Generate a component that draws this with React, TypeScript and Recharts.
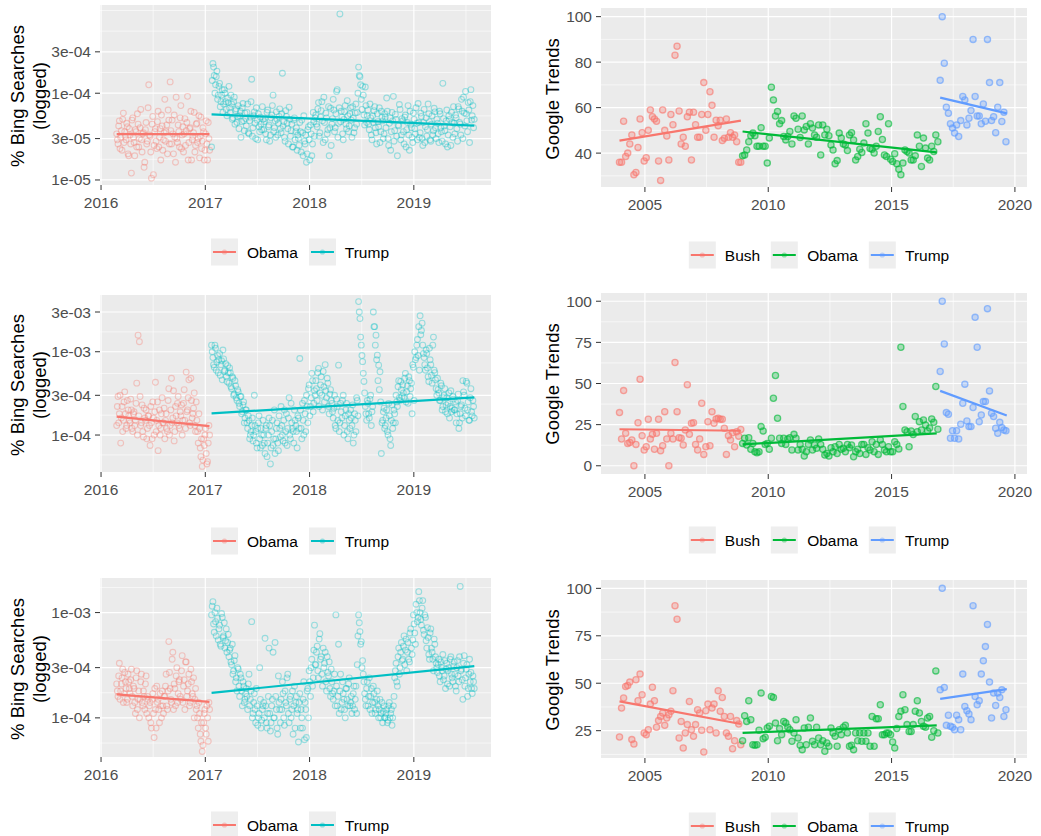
import React from 'react';
import { ScatterChart, Scatter, XAxis, YAxis, CartesianGrid } from 'recharts';

const FONT = '"Liberation Sans", Arial, Helvetica, sans-serif';
const RED = '#F8766D';
const TEAL = '#00BFC4';
const GREEN = '#00BA38';
const BLUE = '#619CFF';

// ---------- Bing (daily, sampled twice per step) ----------
const BING_STEP = 1 / 78;
const bingObamaStart = 2016.15;
const bingTrumpStart = 2017.06;
const bingXTicks = [2016, 2017, 2018, 2019];
const bingXMinor = [2016.5, 2017.5, 2018.5, 2019.5];
const bingLegend = ['Obama', 'Trump'];

// panel 1 (values in 1e-5)
const bing1Unit = 1e-5;
const bing1YTicks = [1e-5, 3e-5, 1e-4, 3e-4];
const bing1YLabels = ['1e-05', '3e-05', '1e-04', '3e-04'];
const bing1YMinor = [1.732e-5, 5.477e-5, 1.732e-4, 5.196e-4, 9e-4];
const bing1Obama = [
  3.4, 2.6, 4.8, 3.1, 2.2, 5.9, 3.6, 2.9, 4.1, 1.9,
  3.3, 1.2, 5.2, 2.7, 3.8, 2.4, 4.4, 3.0, 6.5, 2.1,
  3.5, 1.6, 4.6, 2.8, 12.5, 3.2, 1.05, 5.4, 2.5, 3.9,
  2.3, 6.2, 3.1, 1.7, 4.2, 2.9, 8.5, 3.6, 2.0, 4.9,
  13.5, 2.6, 3.4, 5.6, 1.6, 3.0, 4.3, 2.4, 7.2, 3.3,
  2.1, 5.1, 3.7, 9.2, 2.7, 4.0, 1.7, 3.2, 6.0, 2.5,
  4.5, 3.0, 1.8, 5.3, 2.8, 3.6, 2.2, 4.8, 1.7, 3.0,
];
const bing1ObamaB = [
  2.9, 4.2, 2.3, 3.7, 5.0, 2.7, 3.2, 4.5, 2.0, 3.9,
  2.6, 4.9, 3.1, 1.9, 3.6, 5.8, 2.4, 4.0, 2.9, 3.4,
  1.4, 3.8, 2.6, 6.8, 3.3, 2.1, 4.4, 1.15, 3.6, 2.8,
  4.7, 2.4, 3.9, 5.6, 2.2, 3.5, 2.8, 4.3, 6.4, 2.6,
  3.7, 4.9, 2.0, 3.1, 9.0, 2.7, 3.6, 5.2, 2.3, 4.1,
  3.4, 2.5, 4.6, 1.7, 3.9, 6.2, 2.9, 3.5, 2.1, 4.4,
  2.7, 5.5, 3.2, 2.3, 4.0, 1.7, 3.4, 2.6, 4.6, 2.2,
];
const bing1Trump = [
  2.4, 22, 16, 12.5, 18, 9.5, 13, 8, 11, 7.5, 10, 6.5, 8.8,
  12, 6, 7.5, 5.2, 9, 6.3, 4.6, 7.2, 5.5, 3.1, 6.8, 4.8, 5.9,
  4.2, 7.5, 3.4, 5.3, 14.5, 4.0, 6.1, 3.0, 4.9, 5.8, 3.6, 4.4, 7.0,
  3.8, 5.1, 2.9, 6.4, 4.3, 3.3, 5.6, 9.5, 4.0, 3.1, 5.0, 4.5, 6.6,
  3.5, 17, 4.7, 2.8, 5.4, 3.9, 6.9, 3.2, 4.4, 2.4, 5.2, 3.6, 2.2,
  3.0, 4.6, 2.1, 3.5, 5.5, 2.6, 1.6, 3.8, 2.9, 4.3, 1.9, 6.0, 3.2,
  5.6, 4.1, 7.8, 3.5, 6.3, 4.8, 9.0, 2.9, 5.2, 3.8, 1.9, 6.7, 4.4,
  8.5, 3.6, 5.8, 11, 4.5, 82, 6.2, 3.4, 5.0, 7.2, 3.9, 5.5, 4.2,
  6.8, 3.1, 5.2, 4.0, 7.5, 6.0, 20, 15.5, 8.5, 12, 5.6, 11.8, 4.6,
  6.4, 3.8, 5.2, 2.9, 4.6, 7.0, 3.5, 5.8, 4.1, 2.7, 6.2, 4.8, 3.4,
  5.3, 8.8, 3.0, 4.5, 2.2, 6.0, 9.2, 3.7, 5.0, 1.9, 4.2, 6.5, 3.3,
  4.8, 2.6, 5.6, 3.8, 7.2, 2.2, 4.4, 3.1, 5.9, 3.9, 6.8, 2.9, 4.6,
  3.5, 5.4, 2.5, 6.5, 4.1, 3.2, 7.5, 4.7, 2.8, 5.5, 3.7, 6.1, 3.0,
  4.5, 2.7, 5.8, 3.6, 13, 4.2, 2.6, 6.4, 3.3, 5.0, 2.5, 4.6, 7.0,
  3.4, 5.2, 2.8, 6.6, 4.4, 8.5, 3.0, 5.9, 10.5, 4.8, 7.8, 2.7, 11,
  5.5, 4.0,
];
const bing1TrumpB = [
  14, 20, 10, 15.5, 8.5, 12, 7, 9.5, 6.0, 11, 8, 5.5, 7.8,
  6.8, 9.5, 5.0, 8.0, 4.4, 6.6, 5.4, 3.9, 6.2, 4.7, 7.6, 3.7, 5.1,
  6.0, 3.5, 4.8, 8.0, 3.2, 5.5, 4.5, 6.8, 2.9, 4.1, 5.3, 3.8, 5.0,
  4.7, 3.4, 6.0, 4.1, 2.8, 5.2, 7.2, 3.6, 4.8, 6.1, 3.3, 5.4, 3.9,
  5.8, 4.2, 3.1, 6.3, 4.5, 2.6, 5.0, 3.7, 2.4, 4.9, 2.9, 4.0, 3.3,
  2.5, 3.6, 4.9, 1.9, 2.8, 3.3, 2.0, 4.1, 1.7, 3.4, 2.6, 4.7, 5.2,
  4.4, 6.6, 3.2, 5.3, 8.0, 2.7, 4.6, 5.9, 3.4, 7.0, 4.0, 2.5, 5.1,
  6.4, 4.0, 10.5, 3.1, 6.8, 4.7, 5.3, 2.9, 6.1, 4.4, 8.2, 3.6, 5.8,
  4.9, 7.0, 3.5, 5.9, 4.4, 10, 16, 12.5, 6.5, 9.5, 4.3, 7.2, 5.5,
  4.4, 7.5, 3.3, 5.5, 6.3, 4.0, 2.6, 4.7, 6.8, 3.6, 5.3, 3.0, 5.8,
  4.0, 6.2, 2.5, 5.2, 3.6, 4.8, 2.8, 5.7, 3.2, 4.3, 7.4, 2.9, 5.1,
  3.6, 5.3, 2.4, 4.6, 3.3, 6.2, 4.0, 2.7, 5.0, 3.4, 4.5, 7.6, 3.1,
  5.9, 3.0, 4.6, 2.7, 5.2, 3.8, 5.8, 2.9, 4.4, 3.3, 6.7, 4.0, 5.0,
  3.4, 6.2, 4.0, 2.8, 5.1, 3.7, 4.8, 2.4, 5.5, 4.1, 6.0, 3.1, 4.5,
  5.6, 3.9, 7.0, 4.6, 3.3, 6.2, 9.0, 4.2, 5.8, 3.6, 6.4, 8.0, 4.9,
  7.2, 5.0,
];
const bing1ObamaTrend = [[2016.15, 3.37], [2017.04, 3.37]];
const bing1TrumpTrend = [[2017.06, 5.7], [2019.58, 4.24]];

// panel 3 (values in 1e-4)
const bing2Unit = 1e-4;
const bing2YTicks = [1e-4, 3e-4, 1e-3, 3e-3];
const bing2YLabels = ['1e-04', '3e-04', '1e-03', '3e-03'];
const bing2YMinor = [5.77e-5, 1.732e-4, 5.477e-4, 1.732e-3];
const bing2Obama = [
  1.3, 2.9, 1.8, 0.8, 2.2, 1.5, 3.3, 1.2, 2.6, 1.7, 1.4, 2.0,
  1.1, 1.9, 1.5, 4.2, 15.8, 13.2, 1.3, 2.3, 0.95, 1.6, 2.0, 1.2,
  1.7, 0.75, 1.4, 2.5, 1.0, 4.3, 1.5, 0.65, 2.0, 1.2, 2.8, 1.4,
  0.9, 1.8, 1.1, 3.6, 1.3, 4.8, 1.6, 0.85, 2.2, 1.4, 2.9, 1.2,
  1.7, 1.0, 2.4, 1.5, 5.7, 2.0, 4.6, 1.3, 2.6, 1.8, 3.2, 1.1,
  1.5, 0.8, 1.2, 0.55, 0.42, 0.9, 1.0, 0.6, 0.48, 1.3,
];
const bing2ObamaB = [
  2.2, 1.4, 3.0, 1.6, 1.1, 2.5, 1.8, 1.3, 2.0, 1.5, 2.7, 1.2,
  1.8, 1.3, 2.4, 1.0, 1.7, 2.9, 1.4, 1.1, 2.1, 1.5, 0.9, 1.7,
  1.3, 2.2, 0.9, 1.6, 1.9, 1.1, 2.5, 1.3, 1.0, 1.8, 1.4, 2.1,
  1.5, 1.2, 2.6, 1.0, 2.0, 1.4, 3.4, 1.1, 1.7, 2.4, 1.3, 1.9,
  2.3, 1.5, 3.5, 1.2, 1.9, 2.8, 1.4, 4.8, 1.6, 2.1, 1.3, 2.5,
  1.1, 1.8, 0.7, 0.9, 0.5, 0.75, 1.2, 0.45, 0.8, 1.0,
];
const bing2Trump = [
  12, 8.5, 6.5, 11, 7.5, 5.6, 9.5, 7.0, 4.6, 8.2, 6.0, 5.0, 6.8,
  4.2, 5.6, 3.6, 4.8, 3.1, 3.9, 2.6, 3.3, 2.2, 2.9, 1.9, 2.5, 1.6,
  2.0, 1.2, 1.5, 1.0, 1.3, 0.85, 3.0, 1.1, 0.7, 1.4, 0.9, 1.2, 0.75,
  1.0, 0.6, 1.3, 0.8, 1.6, 0.45, 1.1, 0.75, 2.0, 0.9, 1.4, 0.65, 1.2,
  2.2, 1.0, 1.5, 0.8, 1.8, 1.2, 2.8, 0.9, 1.4, 1.1, 2.0, 1.3, 0.7,
  1.6, 8.3, 1.2, 2.4, 1.0, 1.8, 3.0, 1.4, 4.0, 2.2, 5.5, 1.9, 3.4,
  4.5, 2.6, 6.3, 3.2, 5.0, 2.0, 3.8, 7.0, 2.8, 4.2, 1.8, 3.5, 2.4,
  1.6, 3.0, 1.2, 2.2, 6.9, 1.4, 1.9, 2.6, 1.0, 1.7, 2.4, 0.9, 1.5,
  2.0, 1.3, 0.8, 1.8, 1.1, 2.6, 40, 25, 12, 7.6, 4.4, 2.2, 1.5,
  2.4, 1.6, 3.0, 1.9, 30, 20, 15.8, 9.1, 6.9, 5.75, 0.6, 1.5, 2.1,
  1.3, 2.0, 1.0, 1.7, 0.75, 2.3, 1.4, 1.8, 3.0, 2.2, 4.5, 2.6, 3.5,
  4.0, 2.8, 5.5, 3.3, 2.4, 4.5, 3.6, 1.8, 6.5, 10, 8.5, 14, 20,
  27, 18, 12, 8.5, 6.0, 9.5, 5.0, 11, 7.0, 4.2, 15, 5.6, 3.6,
  4.8, 3.2, 2.6, 3.9, 2.2, 3.0, 1.9, 2.8, 2.4, 1.6, 3.4, 2.1, 2.7,
  2.0, 1.4, 2.6, 1.2, 1.8, 2.3, 4.5, 3.0, 1.7, 4.2, 2.5, 1.5, 3.6,
  1.7, 2.2,
];
const bing2TrumpB = [
  10, 7.0, 12, 6.0, 9.0, 8.0, 5.2, 7.8, 10.5, 5.8, 7.2, 4.4, 5.6,
  6.4, 3.8, 5.0, 3.0, 4.5, 2.8, 3.5, 2.4, 2.9, 1.8, 2.3, 1.4, 2.0,
  1.4, 1.7, 0.9, 1.1, 1.6, 1.0, 1.3, 0.8, 1.2, 1.7, 0.7, 1.0, 1.5,
  0.8, 1.2, 0.55, 1.0, 1.3, 0.7, 1.5, 0.9, 0.6, 1.2, 0.8, 1.7, 0.95,
  1.3, 0.85, 2.0, 1.1, 0.75, 1.6, 1.0, 2.4, 1.2, 0.8, 1.5, 1.1, 1.7,
  1.2, 2.0, 0.9, 1.5, 2.6, 1.1, 2.2, 3.6, 1.7, 2.8, 4.5, 2.4, 3.0,
  3.6, 5.6, 2.2, 4.0, 3.0, 5.8, 2.5, 3.4, 4.8, 2.2, 3.1, 2.6, 1.9,
  2.1, 1.3, 2.7, 1.5, 1.1, 2.4, 1.6, 3.0, 1.3, 2.0, 1.1, 1.8, 1.2,
  1.6, 2.3, 1.0, 1.5, 2.8, 1.7, 30, 15, 9, 5.5, 3.2, 1.8, 2.6,
  1.8, 2.7, 1.3, 2.2, 20, 12, 8, 4.5, 3.5, 2.5, 1.4, 1.9, 1.2,
  1.6, 1.1, 2.4, 0.9, 1.5, 1.2, 2.0, 1.4, 2.5, 3.8, 2.8, 4.4, 2.9,
  3.2, 4.8, 2.5, 3.9, 5.0, 2.9, 4.2, 7.0, 2.6, 8.0, 12, 9.0, 6.0,
  16, 22, 9.5, 7.0, 10.5, 6.4, 4.4, 8.0, 5.2, 12, 6.0, 4.6, 3.0,
  3.5, 2.6, 4.2, 2.0, 2.8, 3.6, 2.3, 1.8, 3.2, 2.2, 1.9, 2.9, 2.0,
  2.5, 1.8, 3.1, 1.4, 2.2, 1.6, 3.3, 2.1, 4.4, 2.0, 1.5, 2.8, 1.9,
  2.6, 1.6,
];
const bing2ObamaTrend = [[2016.15, 1.66], [2017.04, 1.28]];
const bing2TrumpTrend = [[2017.06, 1.82], [2019.58, 2.83]];

// panel 5 (values in 1e-4)
const bing3Unit = 1e-4;
const bing3YTicks = [1e-4, 3e-4, 1e-3];
const bing3YLabels = ['1e-04', '3e-04', '1e-03'];
const bing3YMinor = [5.77e-5, 1.732e-4, 5.477e-4, 1.732e-3];
const bing3Obama = [
  2.1, 1.6, 3.3, 1.8, 2.4, 1.4, 2.7, 1.9, 1.5, 2.2, 1.7, 2.9,
  1.3, 1.9, 1.1, 2.8, 1.5, 1.0, 2.2, 1.4, 1.8, 1.2, 2.5, 1.6,
  1.0, 1.4, 0.8, 1.7, 0.65, 1.2, 2.0, 1.5, 0.9, 1.3, 1.8, 1.1,
  1.6, 2.6, 1.2, 5.3, 1.9, 1.4, 4.2, 2.1, 1.3, 3.0, 1.7, 2.3,
  1.5, 3.9, 2.0, 1.2, 3.4, 1.8, 2.6, 1.4, 2.2, 1.6, 1.0, 1.9,
  1.3, 0.8, 1.1, 0.6, 0.48, 0.9, 1.2, 0.7, 1.0, 1.4,
];
const bing3ObamaB = [
  1.8, 2.5, 1.5, 2.1, 2.9, 1.7, 2.2, 1.4, 2.6, 1.9, 2.3, 1.6,
  2.0, 1.4, 2.4, 1.2, 1.8, 1.5, 2.6, 1.3, 1.6, 2.1, 1.1, 1.5,
  1.3, 0.9, 1.5, 1.1, 1.9, 0.8, 1.4, 1.2, 1.7, 1.0, 1.3, 1.6,
  2.0, 1.3, 1.8, 2.7, 1.5, 3.6, 1.2, 1.9, 2.5, 1.4, 2.2, 1.6,
  2.8, 1.4, 2.3, 3.4, 1.6, 2.1, 1.3, 2.9, 1.7, 2.4, 1.5, 1.2,
  1.0, 1.4, 0.7, 0.9, 0.55, 1.1, 0.8, 1.3, 0.6, 1.2,
];
const bing3Trump = [
  9.5, 12.7, 6.5, 8.2, 11, 5.5, 7.6, 4.8, 9.0, 6.0, 4.6, 7.0, 5.2,
  3.8, 4.6, 3.2, 2.6, 3.5, 2.2, 1.8, 2.9, 1.6, 2.4, 1.3, 2.0, 1.5,
  1.9, 1.2, 2.6, 1.5, 8.2, 1.1, 1.7, 0.9, 1.3, 1.0, 3.0, 0.8, 1.2,
  1.4, 5.7, 0.9, 1.1, 4.6, 0.75, 1.3, 4.2, 1.0, 1.6, 0.8, 2.5, 1.2,
  1.5, 2.2, 1.0, 1.8, 1.3, 2.6, 0.9, 1.6, 1.2, 0.7, 2.0, 1.4, 1.1,
  0.59, 1.7, 1.2, 0.8, 2.2, 1.4, 0.65, 1.9, 2.8, 1.6, 3.6, 2.4, 7.6,
  3.2, 4.8, 2.4, 6.3, 3.8, 2.0, 3.0, 4.2, 1.8, 2.7, 3.4, 1.6, 2.2,
  1.5, 2.6, 9.5, 1.3, 5.0, 1.8, 1.2, 2.2, 1.5, 1.0, 1.9, 1.3, 2.4,
  1.4, 1.1, 1.7, 1.2, 2.0, 3.2, 9.5, 6.6, 5.3, 3.5, 2.2, 1.5, 1.9,
  1.3, 2.4, 1.6, 1.1, 2.0, 1.4, 1.2, 1.8, 1.0, 1.5, 1.1, 0.9, 1.3,
  1.0, 1.2, 0.95, 1.4, 1.1, 0.85, 1.3, 2.4, 3.3, 2.0, 4.6, 3.0, 5.2,
  3.6, 6.0, 4.4, 2.8, 5.2, 3.4, 7.0, 4.0, 9.5, 6.4, 12, 8.2, 15.8,
  10, 7.6, 13, 6.2, 9.0, 4.6, 5.8, 3.6, 7.0, 4.2, 2.8, 5.0, 3.3,
  2.7, 3.6, 2.2, 3.0, 4.0, 2.5, 1.9, 3.3, 2.8, 2.0, 3.8, 2.4, 3.1,
  2.6, 1.8, 3.5, 2.2, 17.7, 2.9, 1.5, 3.9, 2.4, 3.2, 1.9, 3.6, 2.7,
  1.7, 2.2,
];
const bing3TrumpB = [
  11.5, 7.8, 10, 6.0, 8.8, 7.0, 5.0, 9.8, 5.8, 8.0, 5.4, 4.2, 6.2,
  4.4, 3.4, 5.0, 2.8, 3.9, 2.4, 3.0, 2.0, 2.6, 1.8, 2.2, 1.4, 1.7,
  1.6, 2.1, 1.3, 1.8, 1.0, 1.4, 1.2, 1.9, 0.85, 1.1, 1.5, 0.95, 1.3,
  1.0, 1.3, 0.8, 1.6, 1.1, 0.9, 1.5, 1.0, 5.2, 1.2, 0.7, 1.4, 0.9,
  1.2, 1.7, 0.85, 1.4, 2.4, 1.1, 1.5, 1.0, 1.8, 1.3, 0.8, 1.6, 1.2,
  1.4, 0.8, 1.0, 1.5, 0.62, 1.2, 1.8, 1.0, 2.2, 3.0, 2.0, 4.4, 3.2,
  4.2, 2.8, 5.6, 3.6, 2.6, 4.6, 3.3, 2.2, 3.8, 2.5, 1.9, 2.9, 1.7,
  1.8, 1.3, 2.0, 1.6, 1.1, 2.6, 1.4, 1.7, 1.2, 1.9, 1.5, 2.1, 1.3,
  1.6, 1.3, 2.0, 1.5, 1.1, 6.0, 8.0, 5.0, 3.0, 2.6, 1.7, 1.3, 2.2,
  1.6, 1.2, 1.9, 1.4, 1.7, 1.1, 1.5, 1.3, 1.2, 1.0, 1.4, 1.15, 1.0,
  1.1, 0.9, 1.3, 1.0, 1.2, 1.0, 1.6, 2.8, 2.2, 3.8, 2.6, 4.2, 3.5,
  4.8, 3.2, 5.6, 4.2, 3.6, 6.4, 4.6, 5.5, 7.8, 5.0, 10, 9.0, 13,
  8.6, 11, 6.8, 9.5, 5.4, 7.2, 4.0, 6.4, 4.6, 3.6, 5.6, 3.8, 3.0,
  3.2, 2.5, 3.4, 2.8, 2.3, 3.5, 2.9, 2.1, 3.0, 3.6, 2.6, 2.2, 3.4,
  2.0, 3.0, 2.5, 3.8, 2.8, 2.3, 3.3, 2.0, 2.9, 1.6, 2.6, 2.2, 1.9,
  2.5, 1.9,
];
const bing3ObamaTrend = [[2016.15, 1.67], [2017.04, 1.42]];
const bing3TrumpTrend = [[2017.06, 1.73], [2019.58, 3.1]];

// ---------- Google Trends (monthly) ----------
const GT_STEP = 1 / 12;
const gtBushStart = 2003.97;
const gtObamaStart = 2008.96;
const gtTrumpStart = 2016.97;
const gtXTicks = [2005, 2010, 2015, 2020];
const gtXMinor = [2007.5, 2012.5, 2017.5];
const gtLegend = ['Bush', 'Obama', 'Trump'];

const gt1YTicks = [40, 60, 80, 100];
const gt1YMinor = [30, 50, 70, 90];
const gt1Bush = [
  36, 36, 54, 38.5, 40, 44, 48, 30.5, 31.5, 42.5, 55, 49,
  36.5, 38, 50, 59, 56, 55, 54, 36.5, 28, 59, 50, 47.5,
  37, 57, 52.5, 83, 87, 58.5, 44, 47, 43, 56, 58, 37,
  58, 52.5, 47, 47, 57, 71, 50, 57, 67, 61, 47, 54.5,
  52, 54.5, 45.5, 46.5, 55, 47, 49, 47, 48, 45, 36, 36,
];
const gt1Obama = [
  38.8, 39.2, 41.4, 45, 47.6, 48.8, 47.6, 43, 43, 51.2, 43, 43,
  35.6, 46.6, 69, 63.4, 56.3, 58.3, 52.9, 54.3, 47.3, 45.8, 47.3, 49.5,
  44, 56.3, 55.3, 50.5, 46.9, 56.3, 50.2, 51.7, 44, 52.9, 51, 48,
  47, 52.4, 39.2, 52.4, 48, 50.5, 47.6, 43.6, 41.4, 35.3, 36.7, 48.8,
  46.6, 44, 43.6, 41.1, 48, 49, 45.8, 37, 38.5, 41.7, 40.3, 44.4,
  52.9, 48.8, 42, 41.7, 40, 43, 49.5, 56, 46, 39.2, 38.5, 52.9,
  37.3, 36.3, 39.7, 35.3, 32.9, 30.5, 35.6, 41.4, 40.7, 40, 37, 37,
  38.8, 48, 43, 34.1, 46.6, 42.2, 37.8, 37, 43, 40.7, 48, 45,
];
const gt1Trump = [
  72, 100, 79.5, 60.2, 57.5, 52.9, 51, 48.8, 52.4, 47.3, 54.3, 64.9,
  63.4, 52.4, 55.3, 58.7, 90, 64.9, 56.3, 56.3, 52.9, 61.6, 54, 90,
  71, 54.3, 56, 49, 60.2, 71, 53.9, 58, 45,
];
const gt1BushTrend = [[2003.97, 45.5], [2008.89, 54.3]];
const gt1ObamaTrend = [[2008.96, 49.5], [2016.83, 40.3]];
const gt1TrumpTrend = [[2016.97, 64.4], [2019.67, 57.5]];

const gt2YTicks = [0, 25, 50, 75, 100];
const gt2YMinor = [12.5, 37.5, 62.5, 87.5];
const gt2Bush = [
  32.3, 16.3, 45.7, 19.7, 13.6, 14.2, 15.7, 0, 13, 26.2, 52.6, 18.3,
  9.6, 11.6, 28.3, 16.3, 19.1, 10, 19.7, 28.3, 9.1, 12.2, 32.9, 16.3,
  0, 19.7, 16.3, 62.8, 32.9, 17.1, 16.7, 12.6, 21.7, 49.2, 19.1, 25.8,
  26.2, 13, 9.6, 16.3, 38, 6.9, 11.6, 26.8, 12.2, 32.9, 25.8, 28.5,
  28.9, 28.3, 28.3, 22.8, 6.9, 18.3, 15.7, 20.1, 11.6, 20.7, 18, 22,
];
const gt2Obama = [
  13.6, 16.7, 12.6, 17.1, 10, 13.6, 8.5, 7.9, 8.5, 23.8, 21.1, 13,
  13.6, 10, 16.7, 41, 54.9, 28.9, 16.7, 13.6, 16.7, 13, 16.3, 17.1,
  9.6, 19.1, 16.7, 9.6, 13, 10, 5.9, 8.5, 13, 15.7, 9.6, 12.6,
  10.6, 16.3, 13, 10, 6.5, 7.5, 5.9, 11, 8.5, 11.6, 7.5, 13,
  10, 10.6, 8.5, 13, 11, 12.6, 5.5, 8.5, 10, 7.5, 13, 13,
  6.9, 11, 9.6, 14.6, 8.5, 13, 6.9, 15.7, 13, 9.6, 8.5, 11.6,
  8.5, 8.5, 14.6, 13, 10.2, 72, 36, 21.7, 20.7, 11.6, 21.1, 19,
  29.9, 20.7, 26.8, 21.7, 27.8, 24.8, 21.1, 23, 28.5, 26.4, 48.2, 22.2,
];
const gt2Trump = [
  57.3, 100, 74, 32.3, 31.3, 16.7, 21.3, 16.7, 21.3, 16.3, 25.2, 38,
  49.6, 27.2, 23.8, 23.8, 35.4, 90.2, 72, 26.8, 30.9, 39, 39, 95.5,
  45.5, 31.9, 29.9, 22.8, 19.7, 26.4, 23.2, 21.7, 21.3,
];
const gt2BushTrend = [[2003.97, 22.2], [2008.89, 21.3]];
const gt2ObamaTrend = [[2008.96, 13], [2016.83, 19.7]];
const gt2TrumpTrend = [[2016.97, 45.5], [2019.67, 30.5]];

const gt3YTicks = [25, 50, 75, 100];
const gt3YMinor = [12.5, 37.5, 62.5, 87.5];
const gt3Bush = [
  21.7, 36.9, 42.2, 48.3, 48.8, 50.6, 20.3, 18, 51.8, 40.8, 54.8, 43.9,
  23.8, 22.9, 25.5, 39, 47.9, 40.8, 26.8, 30.3, 32.5, 34.3, 27.8, 31.7,
  33.4, 35.2, 46, 90.8, 83.7, 21.1, 29.9, 15.9, 23.8, 28.2, 40.4, 25.5,
  22, 28.2, 36, 34.3, 25.2, 13.8, 35.5, 39, 25.5, 36.9, 39, 23.8,
  46, 35.2, 42.5, 32.5, 23.8, 22, 32.5, 15.5, 19.7, 30.3, 28.5, 17.6,
];
const gt3Obama = [
  19.7, 32.9, 29.9, 40.8, 30.8, 17.6, 17.3, 17.6, 25.2, 44.8, 20.8, 21.5,
  26.4, 27.3, 43, 42.5, 29, 19.7, 26.1, 22.9, 29.9, 29, 26.8, 25.5,
  19.4, 23.8, 30.8, 21.1, 17.3, 15, 26.4, 17.6, 26.8, 31.7, 19.4, 17.6,
  26.8, 21.1, 17.6, 19.7, 14.1, 18.5, 16.8, 26.4, 23.8, 22, 16.8, 25.5,
  22.9, 26.8, 27.8, 23.8, 16.8, 17.3, 15, 23.8, 19.7, 23.8, 19.4, 23.8,
  19.4, 23.8, 16.8, 32.5, 16.8, 31.3, 31.3, 38.7, 22.9, 22.9, 23.8, 23.8,
  22.9, 19, 15.9, 26.1, 32.5, 35.2, 43.9, 36, 28.2, 24.6, 24.6, 28.2,
  35.2, 40.8, 34.3, 29.9, 27.3, 26.8, 31.7, 32.5, 21.5, 25, 56.5, 23.8,
];
const gt3Trump = [
  46.5, 100, 47.8, 27.8, 33.1, 27.3, 26.8, 25.5, 33.1, 30.8, 25.5, 54.8,
  37.8, 35.5, 33.8, 30.8, 90.8, 43, 38.7, 40.8, 54.8, 61.8, 69.3, 81,
  50.6, 31.7, 44.8, 38.3, 44.8, 42.5, 46.5, 32.5, 36,
];
const gt3BushTrend = [[2003.97, 40.4], [2008.89, 28.5]];
const gt3ObamaTrend = [[2008.96, 23.8], [2016.83, 27.8]];
const gt3TrumpTrend = [[2016.97, 41.8], [2019.67, 46.9]];

// ---------- builders ----------
type Pt = { x: number; y: number };
const seq = (start: number, step: number, vals: number[], unit = 1): Pt[] =>
  vals.map((v, i) => ({ x: start + i * step, y: v * unit }));
const trend = (pairs: number[][], unit = 1): Pt[] => pairs.map(([x, y]) => ({ x, y: y * unit }));

type Cfg = {
  rect: { x0: number; x1: number; y0: number; y1: number };
  xDomain: [number, number];
  yDomain: [number, number];
  xTicks: number[];
  xMinor: number[];
  yTicks: number[];
  yLabels?: string[];
  yMinor: number[];
  log: boolean;
  kind: 'bing' | 'gt';
  points: { data: Pt[]; color: string }[];
  trends: { data: Pt[]; color: string }[];
};

const ringShape = (color: string) => (p: any) => {
  if (!p || p.cx == null || p.cy == null || isNaN(p.cx) || isNaN(p.cy)) return <g />;
  return <circle cx={p.cx} cy={p.cy} r={2.9} fill="none" stroke={color} strokeOpacity={0.36} strokeWidth={1.1} />;
};
const dotShape = (color: string) => (p: any) => {
  if (!p || p.cx == null || p.cy == null || isNaN(p.cx) || isNaN(p.cy)) return <g />;
  return <circle cx={p.cx} cy={p.cy} r={3.1} fill={color} fillOpacity={0.3} stroke={color} strokeOpacity={0.62} strokeWidth={1.3} />;
};
const noShape = () => <g />;

const ML = 100;
const MT = 10;
const MR = 10;
const XH = 30;
const TICK_STYLE = { fill: '#4D4D4D', fontSize: 15.5 };

function Panel({ cfg }: { cfg: Cfg }) {
  const { rect } = cfg;
  const width = rect.x1 - rect.x0 + ML + MR;
  const height = rect.y1 - rect.y0 + MT + XH;
  const fmt = (v: number) => {
    if (!cfg.yLabels) return String(v);
    const i = cfg.yTicks.findIndex((t) => Math.abs(t - v) <= Math.abs(t) * 1e-6);
    return i >= 0 ? cfg.yLabels[i] : String(v);
  };
  return (
    <div style={{ position: 'absolute', left: rect.x0 - ML, top: rect.y0 - MT }}>
      <ScatterChart width={width} height={height} margin={{ top: MT, right: MR, bottom: 0, left: 0 }}>
        <CartesianGrid
          fill="#EBEBEB"
          stroke="#FFFFFF"
          strokeWidth={0.6}
          horizontalValues={cfg.yMinor}
          verticalValues={cfg.xMinor}
        />
        <CartesianGrid
          fill="none"
          stroke="#FFFFFF"
          strokeWidth={1.2}
          horizontalValues={cfg.yTicks}
          verticalValues={cfg.xTicks}
        />
        <XAxis
          type="number"
          dataKey="x"
          domain={cfg.xDomain}
          ticks={cfg.xTicks}
          allowDataOverflow
          interval={0}
          axisLine={false}
          tickLine={{ stroke: '#333333', strokeWidth: 1 }}
          tickSize={5}
          tickMargin={7}
          height={XH}
          tick={TICK_STYLE}
        />
        <YAxis
          type="number"
          dataKey="y"
          scale={cfg.log ? 'log' : 'linear'}
          domain={cfg.yDomain}
          ticks={cfg.yTicks}
          tickFormatter={fmt}
          allowDataOverflow
          interval={0}
          axisLine={false}
          tickLine={{ stroke: '#333333', strokeWidth: 1 }}
          tickSize={5}
          tickMargin={4}
          width={ML}
          tick={TICK_STYLE}
        />
        {cfg.points.map((s, i) => (
          <Scatter
            key={'p' + i}
            data={s.data}
            isAnimationActive={false}
            legendType="none"
            shape={cfg.kind === 'bing' ? ringShape(s.color) : dotShape(s.color)}
          />
        ))}
        {cfg.trends.map((s, i) => (
          <Scatter
            key={'t' + i}
            data={s.data}
            isAnimationActive={false}
            legendType="none"
            line={{ stroke: s.color, strokeWidth: 2.2 }}
            shape={noShape}
          />
        ))}
      </ScatterChart>
    </div>
  );
}

function LegendRow({ cx, cy, names, colors }: { cx: number; cy: number; names: string[]; colors: string[] }) {
  return (
    <div
      style={{
        position: 'absolute',
        left: cx,
        top: cy,
        transform: 'translate(-50%, -50%)',
        display: 'flex',
        alignItems: 'center',
        fontFamily: FONT,
        fontSize: 15.5,
        color: '#000',
        whiteSpace: 'nowrap',
      }}
    >
      {names.map((n, i) => (
        <div key={n} style={{ display: 'flex', alignItems: 'center', marginLeft: i ? 11 : 0 }}>
          <svg width={27} height={27} style={{ background: '#EEEEEE', display: 'block' }}>
            <line x1={2} x2={25} y1={13.5} y2={13.5} stroke={colors[i]} strokeWidth={2.2} />
            <circle cx={13.5} cy={13.5} r={2.6} fill={colors[i]} fillOpacity={0.4} />
          </svg>
          <span style={{ marginLeft: 9 }}>{n}</span>
        </div>
      ))}
    </div>
  );
}

function YTitle({ cx, cy, lines }: { cx: number; cy: number; lines: string[] }) {
  return (
    <div
      style={{
        position: 'absolute',
        left: cx,
        top: cy,
        transform: 'translate(-50%, -50%) rotate(-90deg)',
        fontFamily: FONT,
        fontSize: 18.5,
        lineHeight: '21.5px',
        textAlign: 'center',
        whiteSpace: 'nowrap',
        color: '#000',
      }}
    >
      {lines.map((l) => (
        <div key={l}>{l}</div>
      ))}
    </div>
  );
}

const bingX: [number, number] = [2015.99, 2019.74];
const gtX: [number, number] = [2003.22, 2020.49];
const HALF = BING_STEP / 2;

const panels: Cfg[] = [
  {
    rect: { x0: 100, x1: 491, y0: 5, y1: 185 },
    xDomain: bingX,
    yDomain: [8.75e-6, 1.04e-3],
    xTicks: bingXTicks,
    xMinor: bingXMinor,
    yTicks: bing1YTicks,
    yLabels: bing1YLabels,
    yMinor: bing1YMinor,
    log: true,
    kind: 'bing',
    points: [
      { data: seq(bingObamaStart, BING_STEP, bing1Obama, bing1Unit), color: RED },
      { data: seq(bingObamaStart + HALF, BING_STEP, bing1ObamaB, bing1Unit), color: RED },
      { data: seq(bingTrumpStart, BING_STEP, bing1Trump, bing1Unit), color: TEAL },
      { data: seq(bingTrumpStart + HALF, BING_STEP, bing1TrumpB, bing1Unit), color: TEAL },
    ],
    trends: [
      { data: trend(bing1ObamaTrend, bing1Unit), color: RED },
      { data: trend(bing1TrumpTrend, bing1Unit), color: TEAL },
    ],
  },
  {
    rect: { x0: 601, x1: 1027, y0: 8, y1: 187 },
    xDomain: gtX,
    yDomain: [25.1, 103.8],
    xTicks: gtXTicks,
    xMinor: gtXMinor,
    yTicks: gt1YTicks,
    yMinor: gt1YMinor,
    log: false,
    kind: 'gt',
    points: [
      { data: seq(gtBushStart, GT_STEP, gt1Bush), color: RED },
      { data: seq(gtObamaStart, GT_STEP, gt1Obama), color: GREEN },
      { data: seq(gtTrumpStart, GT_STEP, gt1Trump), color: BLUE },
    ],
    trends: [
      { data: trend(gt1BushTrend), color: RED },
      { data: trend(gt1ObamaTrend), color: GREEN },
      { data: trend(gt1TrumpTrend), color: BLUE },
    ],
  },
  {
    rect: { x0: 100, x1: 491, y0: 295, y1: 472 },
    xDomain: bingX,
    yDomain: [3.6e-5, 4.8e-3],
    xTicks: bingXTicks,
    xMinor: bingXMinor,
    yTicks: bing2YTicks,
    yLabels: bing2YLabels,
    yMinor: bing2YMinor,
    log: true,
    kind: 'bing',
    points: [
      { data: seq(bingObamaStart, BING_STEP, bing2Obama, bing2Unit), color: RED },
      { data: seq(bingObamaStart + HALF, BING_STEP, bing2ObamaB, bing2Unit), color: RED },
      { data: seq(bingTrumpStart, BING_STEP, bing2Trump, bing2Unit), color: TEAL },
      { data: seq(bingTrumpStart + HALF, BING_STEP, bing2TrumpB, bing2Unit), color: TEAL },
    ],
    trends: [
      { data: trend(bing2ObamaTrend, bing2Unit), color: RED },
      { data: trend(bing2TrumpTrend, bing2Unit), color: TEAL },
    ],
  },
  {
    rect: { x0: 601, x1: 1027, y0: 293, y1: 474 },
    xDomain: gtX,
    yDomain: [-5, 105],
    xTicks: gtXTicks,
    xMinor: gtXMinor,
    yTicks: gt2YTicks,
    yMinor: gt2YMinor,
    log: false,
    kind: 'gt',
    points: [
      { data: seq(gtBushStart, GT_STEP, gt2Bush), color: RED },
      { data: seq(gtObamaStart, GT_STEP, gt2Obama), color: GREEN },
      { data: seq(gtTrumpStart, GT_STEP, gt2Trump), color: BLUE },
    ],
    trends: [
      { data: trend(gt2BushTrend), color: RED },
      { data: trend(gt2ObamaTrend), color: GREEN },
      { data: trend(gt2TrumpTrend), color: BLUE },
    ],
  },
  {
    rect: { x0: 100, x1: 491, y0: 578, y1: 757 },
    xDomain: bingX,
    yDomain: [4.25e-5, 2.13e-3],
    xTicks: bingXTicks,
    xMinor: bingXMinor,
    yTicks: bing3YTicks,
    yLabels: bing3YLabels,
    yMinor: bing3YMinor,
    log: true,
    kind: 'bing',
    points: [
      { data: seq(bingObamaStart, BING_STEP, bing3Obama, bing3Unit), color: RED },
      { data: seq(bingObamaStart + HALF, BING_STEP, bing3ObamaB, bing3Unit), color: RED },
      { data: seq(bingTrumpStart, BING_STEP, bing3Trump, bing3Unit), color: TEAL },
      { data: seq(bingTrumpStart + HALF, BING_STEP, bing3TrumpB, bing3Unit), color: TEAL },
    ],
    trends: [
      { data: trend(bing3ObamaTrend, bing3Unit), color: RED },
      { data: trend(bing3TrumpTrend, bing3Unit), color: TEAL },
    ],
  },
  {
    rect: { x0: 601, x1: 1027, y0: 580, y1: 758 },
    xDomain: gtX,
    yDomain: [10.6, 104.4],
    xTicks: gtXTicks,
    xMinor: gtXMinor,
    yTicks: gt3YTicks,
    yMinor: gt3YMinor,
    log: false,
    kind: 'gt',
    points: [
      { data: seq(gtBushStart, GT_STEP, gt3Bush), color: RED },
      { data: seq(gtObamaStart, GT_STEP, gt3Obama), color: GREEN },
      { data: seq(gtTrumpStart, GT_STEP, gt3Trump), color: BLUE },
    ],
    trends: [
      { data: trend(gt3BushTrend), color: RED },
      { data: trend(gt3ObamaTrend), color: GREEN },
      { data: trend(gt3TrumpTrend), color: BLUE },
    ],
  },
];

const bingTitle = ['% Bing Searches', '(logged)'];
const gtTitle = ['Google Trends'];

export default function App() {
  return (
    <div
      style={{
        position: 'absolute',
        left: 0,
        top: 0,
        width: 1041,
        height: 836,
        background: '#FFFFFF',
        fontFamily: FONT,
        overflow: 'hidden',
      }}
    >
      {panels.map((p, i) => (
        <Panel key={i} cfg={p} />
      ))}
      <YTitle cx={28} cy={96} lines={bingTitle} />
      <YTitle cx={28} cy={385} lines={bingTitle} />
      <YTitle cx={28} cy={669} lines={bingTitle} />
      <YTitle cx={553} cy={99} lines={gtTitle} />
      <YTitle cx={553} cy={384} lines={gtTitle} />
      <YTitle cx={553} cy={670} lines={gtTitle} />
      <LegendRow cx={300} cy={252} names={bingLegend} colors={[RED, TEAL]} />
      <LegendRow cx={819} cy={255} names={gtLegend} colors={[RED, GREEN, BLUE]} />
      <LegendRow cx={300} cy={541} names={bingLegend} colors={[RED, TEAL]} />
      <LegendRow cx={819} cy={540} names={gtLegend} colors={[RED, GREEN, BLUE]} />
      <LegendRow cx={300} cy={825} names={bingLegend} colors={[RED, TEAL]} />
      <LegendRow cx={819} cy={826} names={gtLegend} colors={[RED, GREEN, BLUE]} />
    </div>
  );
}
